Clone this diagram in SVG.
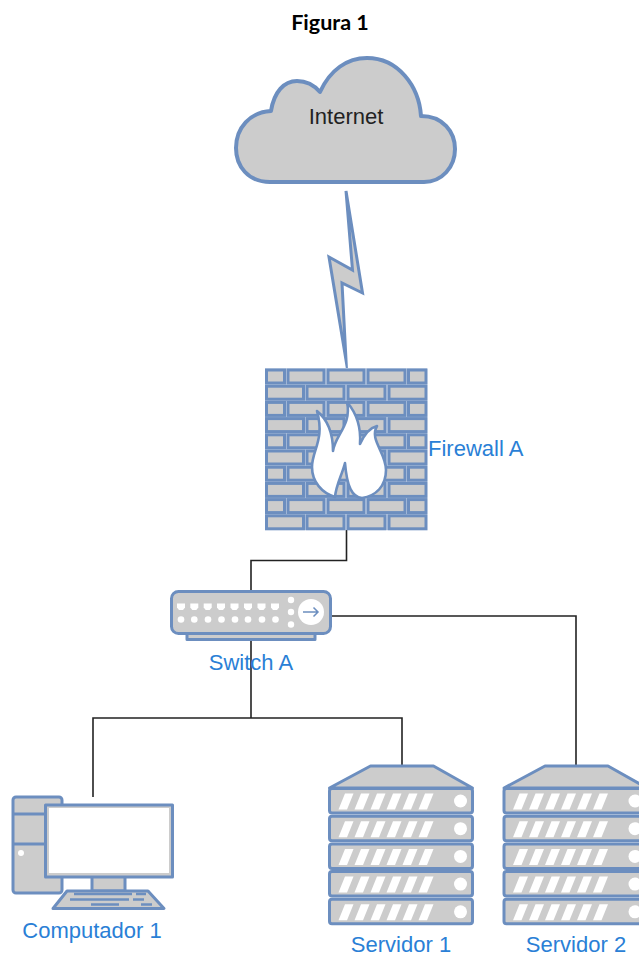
<svg xmlns="http://www.w3.org/2000/svg" xmlns:xlink="http://www.w3.org/1999/xlink" width="639" height="956" viewBox="0 0 639 956">
<style>
.s{fill:#ccc;stroke:#6c8ebf;stroke-width:3;stroke-linejoin:round}
.b{fill:#ccc;stroke:#6c8ebf;stroke-width:3}
.w{fill:#fff;stroke:none}
.l{font-family:"Liberation Sans",Arial,sans-serif;font-size:22px;fill:#2a7fd6;text-anchor:middle}
.c{fill:none;stroke:#222;stroke-width:1.600}
</style>
<defs>
<g id="rowA">
<rect class="b" x="266.500" y="0" width="18" height="13"/><rect class="b" x="288" y="0" width="36" height="13"/><rect class="b" x="328" y="0" width="36" height="13"/><rect class="b" x="368" y="0" width="37" height="13"/><rect class="b" x="408.500" y="0" width="17.500" height="13"/>
</g>
<g id="rowB">
<rect class="b" x="266.500" y="0" width="37" height="13"/><rect class="b" x="307" y="0" width="37" height="13"/><rect class="b" x="348" y="0" width="37" height="13"/><rect class="b" x="389" y="0" width="37" height="13"/>
</g>
<g id="unit">
<rect class="s" x="0" y="0" width="143" height="24.500" rx="2.500"/>
<g class="w">
<path d="M9 21H17.500L24 5H15.500Z"/><path d="M25 21H33.500L40 5H31.500Z"/><path d="M41 21H49.500L56 5H47.500Z"/><path d="M57 21H65.500L72 5H63.500Z"/><path d="M73 21H81.500L88 5H79.500Z"/><path d="M89 21H97.500L104 5H95.500Z"/>
<circle cx="131" cy="12.500" r="6.500"/>
</g>
</g>
<g id="server">
<path class="s" d="M41 0H104L143 22H0Z"/>
<use xlink:href="#unit" href="#unit" y="22.500"/>
<use xlink:href="#unit" href="#unit" y="50.200"/>
<use xlink:href="#unit" href="#unit" y="77.900"/>
<use xlink:href="#unit" href="#unit" y="105.600"/>
<use xlink:href="#unit" href="#unit" y="133.300"/>
</g>
</defs>
<rect width="639" height="956" fill="#fff"/>
<text x="330" y="30" style="font-family:Lato,'Liberation Sans',sans-serif;font-size:21.500px;font-weight:700;fill:#000;text-anchor:middle">Figura 1</text>

<g id="connectors">
<path class="c" d="M346.500 530V560.500H251V591"/>
<path class="c" d="M251 633V718"/>
<path class="c" d="M93 797V718H402V765"/>
<path class="c" d="M331 616H576V765"/>
</g>

<g id="internet">
<path d="M270 182C248 182 236 166 236 148C236 128 250 112 271 111C274 92 284 81 297 81C307 81 314 85 320 92C330 70 347 58 367 58C398 58 419 86 421 116C443 116 455 132 455 149C455 167 442 182 424 182Z" fill="#ccc" stroke="#6c8ebf" stroke-width="4" stroke-linejoin="round"/>
<text x="346" y="124" style="font-family:'Liberation Sans',Arial,sans-serif;font-size:22px;fill:#222;text-anchor:middle">Internet</text>
</g>

<g id="lightning">
<path d="M346 191L352.500 270L329 257L346 360L342 283L362.500 293Z" fill="#ccc" stroke="#6c8ebf" stroke-width="3" stroke-linejoin="miter" stroke-miterlimit="20"/>
</g>

<g id="firewall">
<rect x="265" y="368" width="162" height="162" fill="#d5deec"/>
<use xlink:href="#rowA" href="#rowA" y="370"/>
<use xlink:href="#rowB" href="#rowB" y="386.200"/>
<use xlink:href="#rowA" href="#rowA" y="402.400"/>
<use xlink:href="#rowB" href="#rowB" y="418.600"/>
<use xlink:href="#rowA" href="#rowA" y="434.800"/>
<use xlink:href="#rowB" href="#rowB" y="451"/>
<use xlink:href="#rowA" href="#rowA" y="467.200"/>
<use xlink:href="#rowB" href="#rowB" y="483.400"/>
<use xlink:href="#rowA" href="#rowA" y="499.600"/>
<use xlink:href="#rowB" href="#rowB" y="515.800"/>
<path d="M335 497C322 493 312 482 312 467C312 450 325 440 317 411C328 420 333 435 333 451C335 435 352 425 347 402C358 415 361 430 360 444C364 435 369 428 377 426C369 440 386 452 386 470C386 486 376 496 362 498C352 497 347 487 345 463C342 475 336 485 335 497Z" fill="#fff" stroke="#6c8ebf" stroke-width="2.600" stroke-linejoin="round"/>
<text class="l" x="428" y="456" style="text-anchor:start">Firewall A</text>
</g>

<g id="switch">
<rect class="s" x="187" y="632" width="128" height="7.500"/>
<rect class="s" x="171.500" y="591.500" width="159" height="42" rx="7"/>
<g class="w">
<path id="p" d="M177 603.500H185V607.500L183 610H179L177 607.500Z"/>
<use xlink:href="#p" href="#p" x="13.300"/><use xlink:href="#p" href="#p" x="26.700"/><use xlink:href="#p" href="#p" x="40"/><use xlink:href="#p" href="#p" x="53.500"/><use xlink:href="#p" href="#p" x="67"/><use xlink:href="#p" href="#p" x="80.500"/><use xlink:href="#p" href="#p" x="94"/>
<circle cx="181" cy="619.500" r="3.300"/><circle cx="194.300" cy="619.500" r="3.300"/><circle cx="208" cy="619.500" r="3.300"/><circle cx="221.500" cy="619.500" r="3.300"/><circle cx="235" cy="619.500" r="3.300"/><circle cx="248" cy="619.500" r="3.300"/><circle cx="262" cy="619.500" r="3.300"/><circle cx="275.500" cy="619.500" r="3.300"/>
<circle cx="291" cy="600" r="3.200"/><circle cx="291" cy="612" r="3.200"/><circle cx="291" cy="624.500" r="3.200"/>
<circle cx="311" cy="612" r="13"/>
</g>
<path d="M303 612H318M313.500 607.500L318 612L313.500 616.500" fill="none" stroke="#6c8ebf" stroke-width="1.500"/>
<text class="l" x="251" y="670">Switch A</text>
</g>

<g id="computer">
<rect class="s" x="13" y="797" width="49" height="96" rx="3"/>
<path d="M13 814H50M13 844H50" fill="none" stroke="#6c8ebf" stroke-width="3"/>
<circle class="w" cx="21" cy="853" r="3"/>
<rect class="s" x="92" y="876" width="33" height="15"/>
<rect class="s" x="45.500" y="805" width="127" height="72"/>
<rect class="w" x="49" y="808" width="120" height="65" style="fill:#fff"/>
<path class="s" d="M67 891H148L164 908.500H53Z"/>
<path d="M74 894H132M136 894H146M70 899.500H129M133 899.500H144M91 904.500H119M141 904.500H152" stroke="#6c8ebf" stroke-width="2.500" fill="none"/>
<text class="l" x="92" y="938">Computador 1</text>
</g>

<g id="servidor1">
<use xlink:href="#server" href="#server" x="329.500" y="766"/>
<text class="l" x="401" y="951.500">Servidor 1</text>
</g>
<g id="servidor2">
<use xlink:href="#server" href="#server" x="504" y="766"/>
<text class="l" x="576" y="951.500">Servidor 2</text>
</g>
</svg>
